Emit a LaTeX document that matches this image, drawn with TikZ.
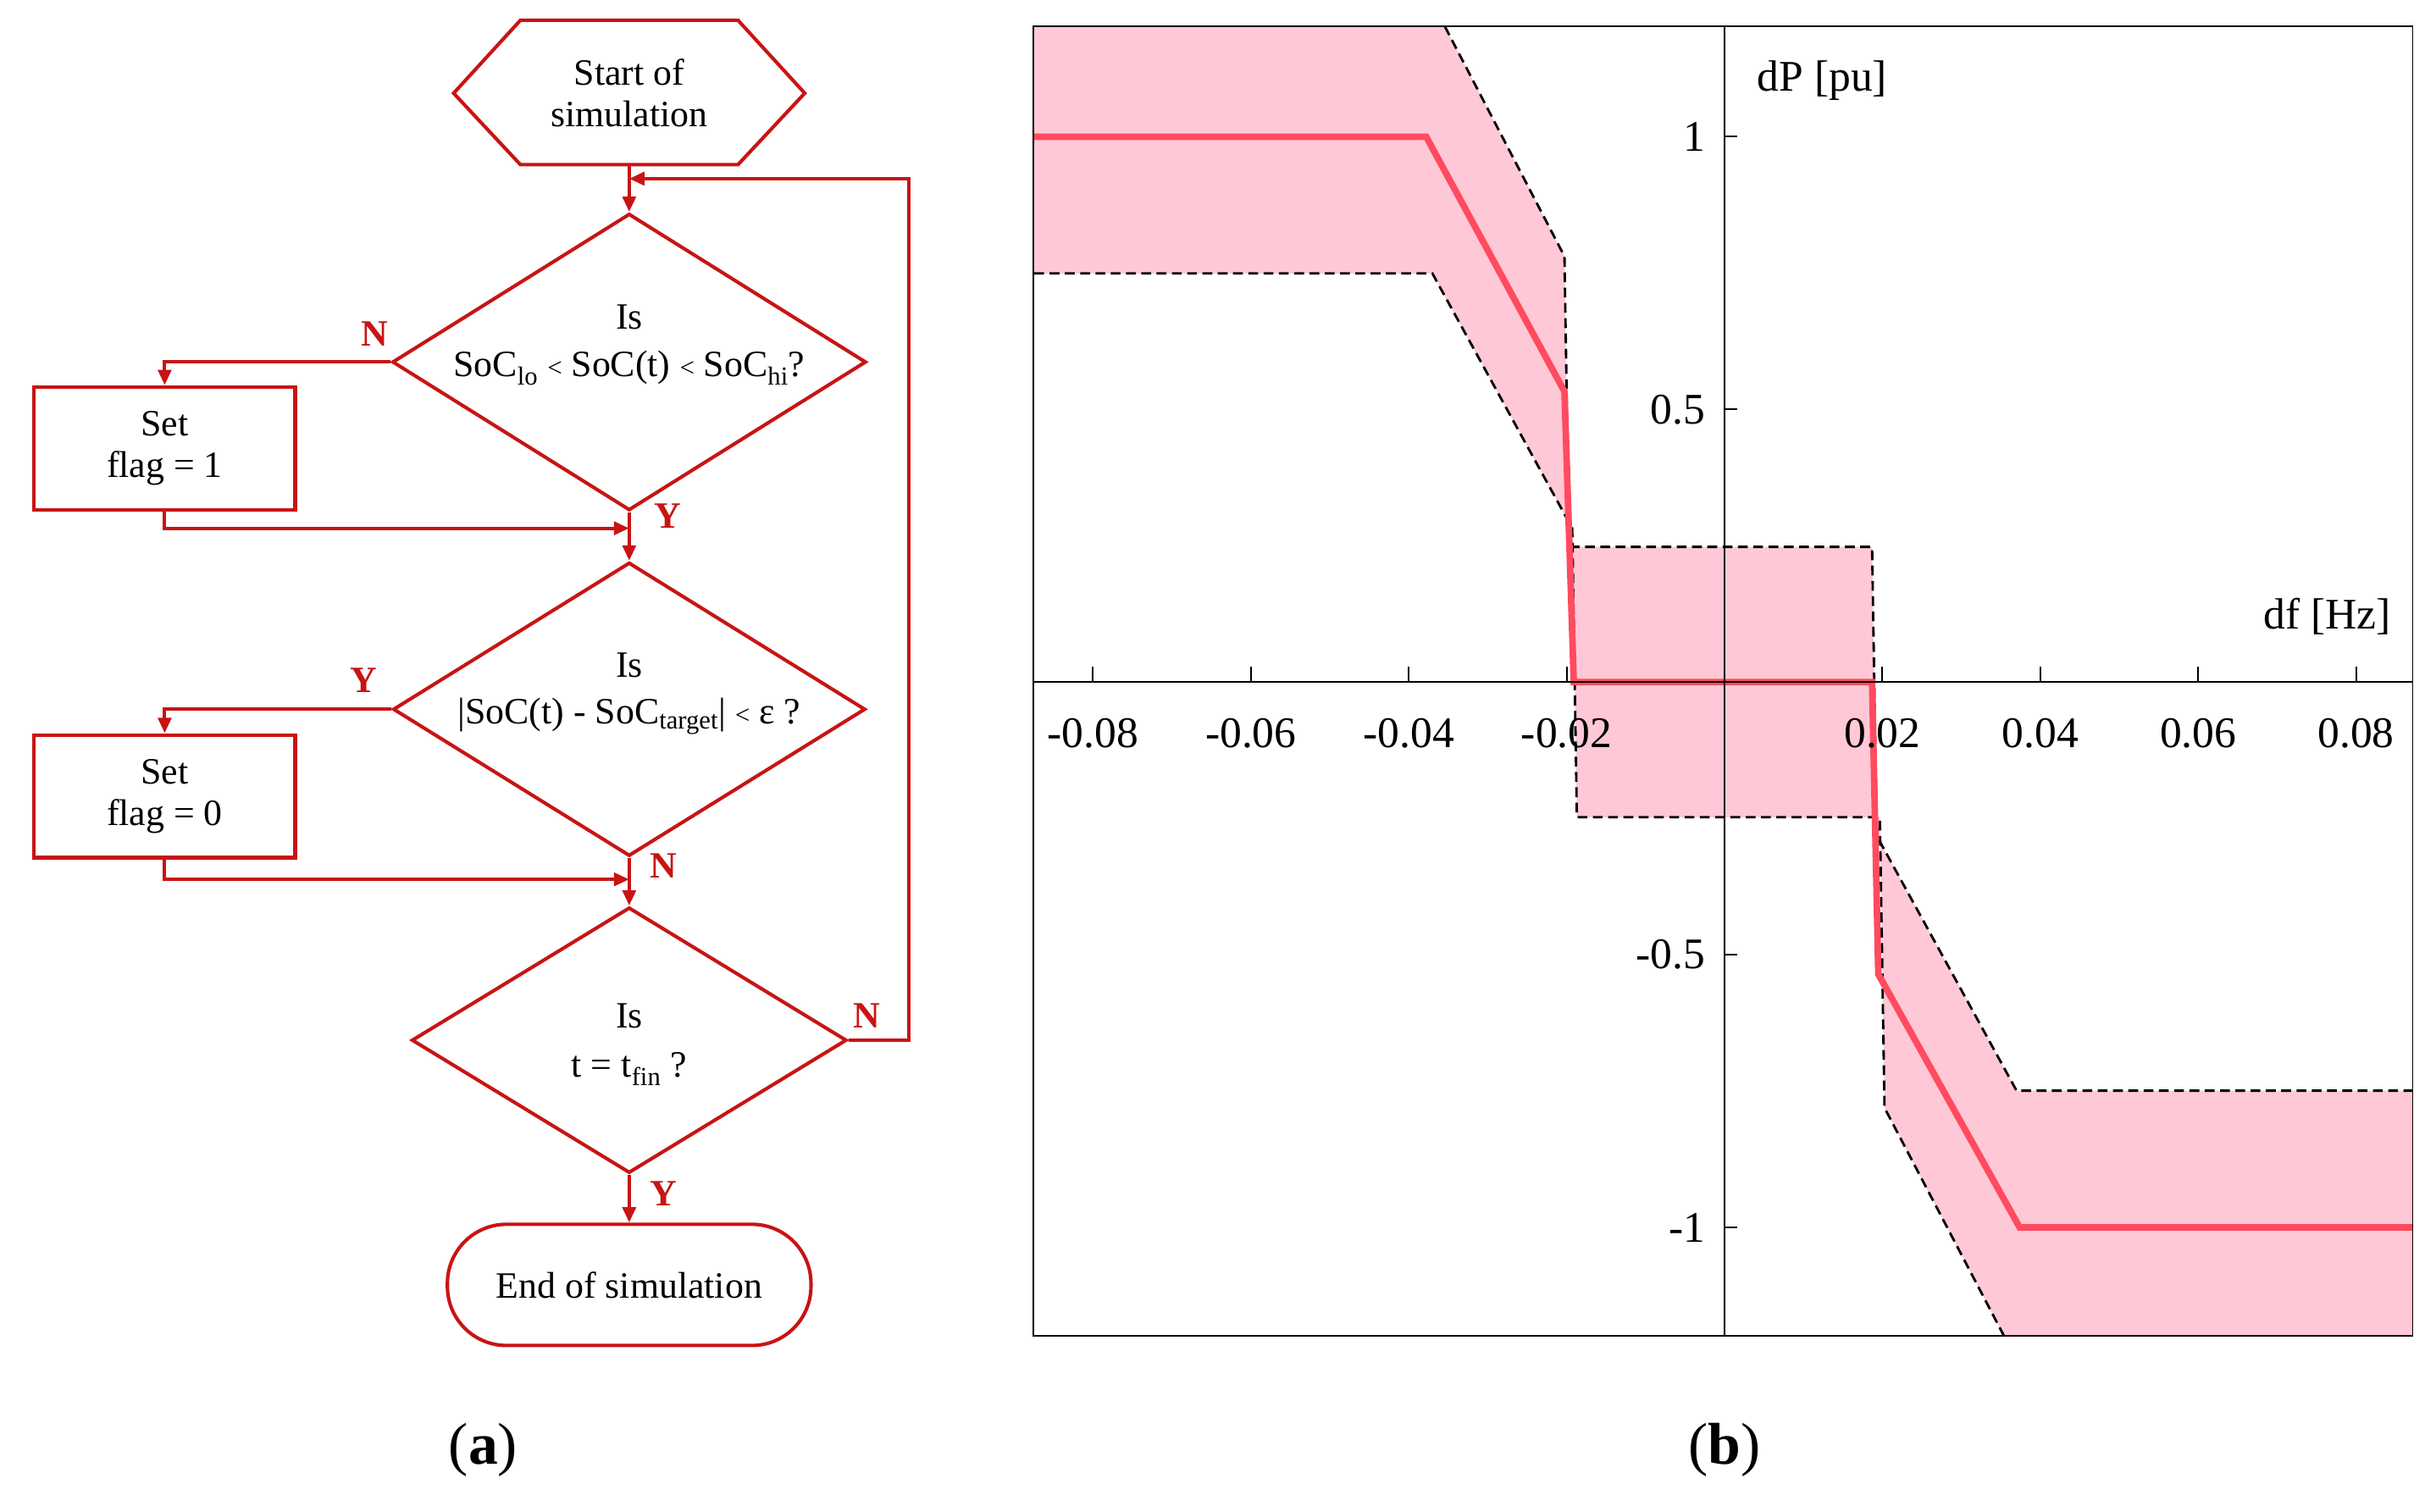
\documentclass[tikz,border=0pt]{standalone}
\usepackage{fontspec}
\setmainfont{Liberation Serif}
\usetikzlibrary{shapes.geometric,arrows.meta}
\definecolor{fr}{RGB}{200,20,20}
\definecolor{pk}{RGB}{255,200,215}
\definecolor{rl}{RGB}{255,75,95}
\begin{document}
\begin{tikzpicture}[x=0.05cm,y=-0.05cm,
 ft/.style={font=\fontsize{34}{38}\selectfont},
 box/.style={draw=fr,line width=3.2pt,ft,align=center,inner sep=0pt},
 dia/.style={box,diamond},
 arr/.style={draw=fr,line width=3.2pt,-{Triangle[length=14pt,width=12pt]}},
 ln/.style={draw=fr,line width=3.2pt},
 yn/.style={text=fr,font=\fontsize{34}{38}\selectfont\bfseries},
 tk/.style={font=\fontsize{40}{44}\selectfont},
 dsh/.style={black,line width=2.2pt,dash pattern=on 9pt off 5pt}]
\useasboundingbox (0,0) rectangle (1568,973);
% ---------- flowchart
\draw[ln] (292,60)--(335,13)--(475,13)--(518,60)--(475,106)--(335,106)--cycle;
\node[ft,align=center] (st) at (405,60) {Start of\\simulation};
\coordinate (sts) at (405,106);
\node[dia,minimum width=305*0.05cm,minimum height=191*0.05cm] (d1) at (405,233) {};
\node[ft] at (405,204) {Is};
\node[ft] at (405,237) {SoC\textsubscript{lo} {\fontsize{24}{26}\selectfont<} SoC(t) {\fontsize{24}{26}\selectfont<} SoC\textsubscript{hi}?};
\node[box,minimum width=168*0.05cm,minimum height=79*0.05cm] (b1) at (106,288.5) {Set\\flag = 1};
\node[dia,minimum width=304*0.05cm,minimum height=189*0.05cm] (d2) at (405,456.5) {};
\node[ft] at (405,428) {Is};
\node[ft] at (405,461) {|SoC(t) - SoC\textsubscript{target}| {\fontsize{24}{26}\selectfont<} ε ?};
\node[box,minimum width=168*0.05cm,minimum height=79*0.05cm] (b2) at (106,512.5) {Set\\flag = 0};
\node[dia,minimum width=280*0.05cm,minimum height=171*0.05cm] (d3) at (405,669.5) {};
\node[ft] at (405,654) {Is};
\node[ft] at (405,688) {t = t\textsubscript{fin} ?};
\node[box,rounded corners=38*0.05cm,minimum width=234*0.05cm,minimum height=78*0.05cm] (en) at (405,827) {End of simulation};
\coordinate (j0) at (405,115);
\coordinate (j1) at (405,340);
\coordinate (j2) at (405,566);
\draw[arr] (sts)--(d1.north);
\draw[arr] (d1.west) -| (b1.north);
\draw[arr] (b1.south) |- (j1);
\draw[arr] (d1.south)--(d2.north);
\draw[arr] (d2.west) -| (b2.north);
\draw[arr] (b2.south) |- (j2);
\draw[arr] (d2.south)--(d3.north);
\draw[arr] (d3.south)--(en.north);
\draw[arr] (d3.east) -- ++(39,0) |- (j0);
\node[yn] at (241,215) {N};
\node[yn] at (430,332) {Y};
\node[yn] at (234,438) {Y};
\node[yn] at (427,557) {N};
\node[yn] at (558,654) {N};
\node[yn] at (427,768) {Y};
\node[font=\fontsize{54}{58}\selectfont] (la) at (311,933) {(\textbf{a})};
\node[font=\fontsize{54}{58}\selectfont] (lb) at (1110,933) {(\textbf{b})};
% ---------- plot
\fill[pk] (665,17)--(930,17)--(1007,165)--(1010,352)--(1205,352)--(1208,538)--(1298,702)--(1553,702)
 --(1553,860)--(1290,860)--(1213,713)--(1210,526)--(1015,526)--(1012,340)--(922,176)--(665,176)--cycle;
\draw[dsh] (930,17)--(1007,165)--(1010,352)--(1205,352)--(1208,538)--(1298,702)--(1553,702);
\draw[dsh] (1290,860)--(1213,713)--(1210,526)--(1015,526)--(1012,340)--(922,176)--(665,176);
\draw[rl,line width=6pt] (665,88)--(918,88)--(1007,252)--(1013,439)--(1205,439)--(1209,627)--(1300,790)--(1553,790);
\draw[black,line width=1.5pt] (665,439)--(1553,439) (1110,17)--(1110,860);
\draw[black,line width=1.5pt] (665,17) rectangle (1553,860);
\foreach \v/\l in {-0.08/-0.08,-0.06/-0.06,-0.04/-0.04,-0.02/-0.02,0.02/0.02,0.04/0.04,0.06/0.06,0.08/0.08}{
 \draw[black,line width=1.5pt] ({1110+\v*5081},439)--({1110+\v*5081},429);
 \node[tk] at ({1110+\v*5081},472) {\l};}
\foreach \v/\l in {1/1,0.5/0.5,-0.5/-0.5,-1/-1}{
 \draw[black,line width=1.5pt] (1110,{439-\v*351})--(1118,{439-\v*351});
 \node[tk,anchor=east] at (1100,{439-\v*351}) {\l};}
\node[tk] at (1173,52) {dP [pu]};
\node[tk] at (1498,397) {df [Hz]};
\end{tikzpicture}
\end{document}
